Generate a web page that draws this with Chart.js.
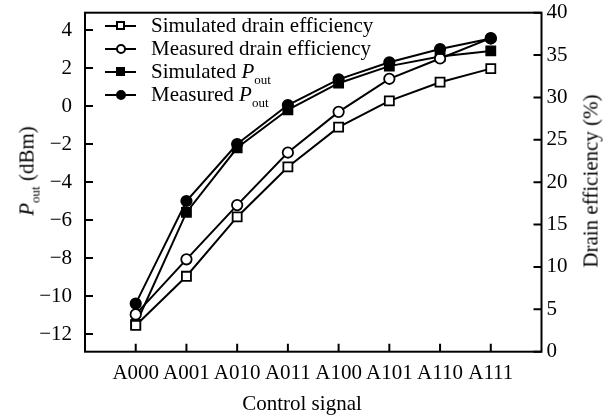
<!DOCTYPE html>
<html><head><meta charset="utf-8">
<script src="https://cdn.jsdelivr.net/npm/chart.js@4/dist/chart.umd.min.js"></script>
<style>
html,body{margin:0;padding:0;background:#fff;}
#wrap{position:relative;width:613px;height:419px;font-family:"Liberation Serif","Times New Roman",serif;color:#000;overflow:hidden;}
canvas{position:absolute;left:0;top:0;}
.t{position:absolute;font-size:21px;white-space:nowrap;line-height:1;}
.rot{transform:translate(-50%,-50%) rotate(-90deg);}
.ctr{transform:translate(-50%,-50%);}
.sub{font-size:13px;position:relative;top:6px;}
.legrow{position:absolute;left:105px;height:0;}
.legline{position:absolute;left:0;top:-1px;width:31px;height:2px;background:#000;}
.mk{position:absolute;box-sizing:border-box;border:2px solid #000;}
.legtxt{position:absolute;left:46px;top:-11px;font-size:21px;white-space:nowrap;line-height:1;}
</style></head>
<body>
<div id="wrap">
<canvas id="c" width="613" height="419"></canvas>
<div class="t rot" style="left:27px;top:171px;"><i>P</i><span class="sub">out</span> (dBm)</div>
<div class="t rot" style="left:591px;top:181px;">Drain efficiency (%)</div>
<div class="t ctr" style="left:302px;top:403px;">Control signal</div>
<div id="legend"></div>
</div>
<script>
const categories = ['A000','A001','A010','A011','A100','A101','A110','A111'];
const simEff   = [3.1, 8.9, 15.9, 21.8, 26.5, 29.6, 31.8, 33.4];
const measEff  = [4.4, 10.9, 17.3, 23.5, 28.3, 32.2, 34.6, 37.0];
const simPout  = [-11.5, -5.6, -2.2, -0.2, 1.2, 2.1, 2.6, 2.9];
const measPout = [-10.4, -5.0, -2.0, 0.05, 1.4, 2.3, 3.0, 3.55];
const poutTicks = [-12, -10, -8, -6, -4, -2, 0, 2, 4];
const effTicks = [0, 5, 10, 15, 20, 25, 30, 35, 40];
const legendNames = ['Simulated drain efficiency', 'Measured drain efficiency', 'Simulated ', 'Measured '];

const FONT = '"Liberation Serif", "Times New Roman", serif';
const toPts = arr => arr.map((v, i) => ({x: i, y: v}));

// legend (HTML)
const legendSpecs = [
  {shape: 'sq', fill: '#fff', pout: false},
  {shape: 'ci', fill: '#fff', pout: false},
  {shape: 'sq', fill: '#000', pout: true},
  {shape: 'ci', fill: '#000', pout: true}
];
const legendY = [25.5, 48.5, 71.5, 94.5];
const legEl = document.getElementById('legend');
legendSpecs.forEach((s, i) => {
  const row = document.createElement('div');
  row.className = 'legrow';
  row.style.top = legendY[i] + 'px';
  const size = s.shape === 'sq' ? 9 : 10;
  const mk = `<div class="mk" style="left:${15.5 - size/2}px;top:${-size/2}px;width:${size}px;height:${size}px;background:${s.fill};${s.shape==='ci'?'border-radius:50%;':''}"></div>`;
  const txt = s.pout ? `${legendNames[i]}<i>P</i><span class="sub">out</span>` : legendNames[i];
  row.innerHTML = `<div class="legline"></div>${mk}<div class="legtxt">${txt}</div>`;
  legEl.appendChild(row);
});

const framePlugin = {
  id: 'frame',
  afterDraw(chart) {
    const {ctx, chartArea: a, scales} = chart;
    ctx.save();
    ctx.strokeStyle = '#000';
    ctx.lineWidth = 2;
    ctx.strokeRect(a.left, a.top, a.right - a.left, a.bottom - a.top);
    const L = 8;
    ctx.beginPath();
    scales.y.ticks.forEach(t => { const y = scales.y.getPixelForValue(t.value); ctx.moveTo(a.left, y); ctx.lineTo(a.left + L, y); });
    scales.y2.ticks.forEach(t => { const y = scales.y2.getPixelForValue(t.value); ctx.moveTo(a.right, y); ctx.lineTo(a.right - L, y); });
    scales.x.ticks.forEach(t => { const x = scales.x.getPixelForValue(t.value); ctx.moveTo(x, a.bottom); ctx.lineTo(x, a.bottom - L); });
    ctx.stroke();
    ctx.restore();
  }
};

const common = {borderColor: '#000', borderWidth: 2, tension: 0, pointBorderColor: '#000', pointBorderWidth: 1.8, fill: false};
const fitV = w => s => { s.width = w; s.paddingTop = 0; s.paddingBottom = 0; };

new Chart(document.getElementById('c'), {
  type: 'line',
  data: {
    datasets: [
      Object.assign({label: 'Simulated drain efficiency', data: toPts(simEff), yAxisID: 'y2', pointStyle: 'rect', pointRadius: 6.4, pointBackgroundColor: '#fff', order: 2}, common),
      Object.assign({label: 'Measured drain efficiency', data: toPts(measEff), yAxisID: 'y2', pointStyle: 'circle', pointRadius: 5.2, pointBackgroundColor: '#fff', order: 1}, common),
      Object.assign({label: 'Simulated Pout', data: toPts(simPout), yAxisID: 'y', pointStyle: 'rect', pointRadius: 6.4, pointBackgroundColor: '#000', order: 3}, common),
      Object.assign({label: 'Measured Pout', data: toPts(measPout), yAxisID: 'y', pointStyle: 'circle', pointRadius: 5.2, pointBackgroundColor: '#000', order: 0}, common)
    ]
  },
  options: {
    responsive: false,
    devicePixelRatio: 1,
    animation: false,
    layout: {padding: {top: 12.7, left: 0, right: 0, bottom: 0}},
    plugins: {legend: {display: false}, tooltip: {enabled: false}},
    scales: {
      x: {
        type: 'linear', min: -1, max: 8,
        grid: {display: false, drawTicks: false}, border: {display: false},
        afterBuildTicks: s => { s.ticks = categories.map((c, i) => ({value: i})); },
        afterFit: s => { s.height = 67.3; s.paddingLeft = 0; s.paddingRight = 0; },
        ticks: {autoSkip: false, maxRotation: 0, minRotation: 0, padding: 9, color: '#000', font: {family: FONT, size: 21},
          callback: v => categories[v] !== undefined ? categories[v] : ''}
      },
      y: {
        type: 'linear', position: 'left', min: -12.93, max: 4.91,
        grid: {display: false, drawTicks: false}, border: {display: false},
        afterBuildTicks: s => { s.ticks = poutTicks.map(v => ({value: v})); },
        afterFit: fitV(85),
        ticks: {padding: 13, color: '#000', font: {family: FONT, size: 21}, callback: v => (v < 0 ? '\u2212' + Math.abs(v) : String(v))}
      },
      y2: {
        type: 'linear', position: 'right', min: 0, max: 40,
        grid: {display: false, drawTicks: false}, border: {display: false},
        afterBuildTicks: s => { s.ticks = effTicks.map(v => ({value: v})); },
        afterFit: fitV(71.5),
        ticks: {padding: 5, color: '#000', font: {family: FONT, size: 21}}
      }
    }
  },
  plugins: [framePlugin]
});
</script>
</body></html>
